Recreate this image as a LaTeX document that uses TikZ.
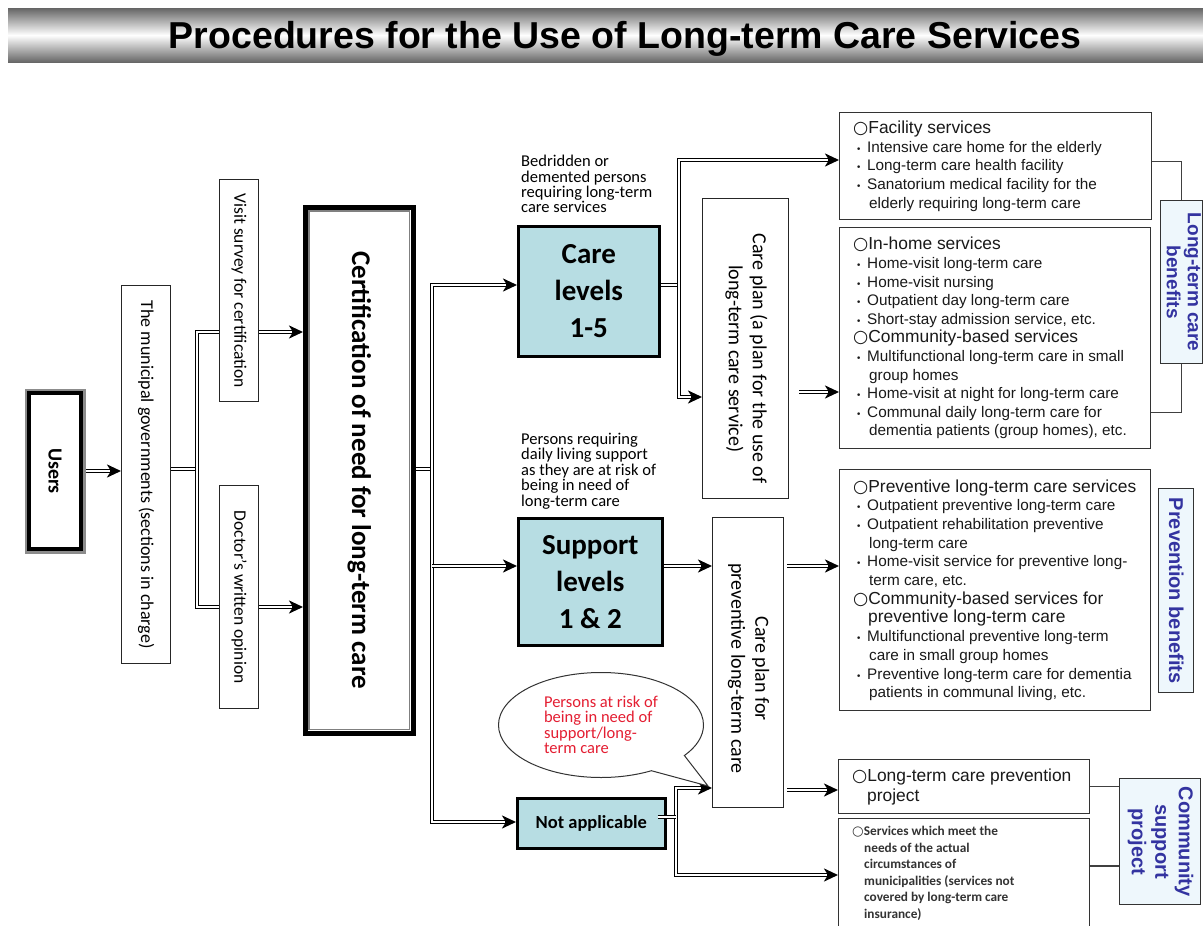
\documentclass[tikz,border=0pt]{standalone}
\usepackage{fontspec}
\setmainfont{Carlito}
\newfontfamily\arialf{Liberation Sans}
\newfontfamily\symf{DejaVu Sans}
\usetikzlibrary{arrows.meta,shapes.callouts,backgrounds}
\definecolor{lvlblue}{RGB}{183,221,227}
\definecolor{lblfill}{RGB}{238,247,252}
\definecolor{lbltext}{RGB}{51,51,160}
\definecolor{bubred}{RGB}{228,30,50}
\tikzset{
  box/.style={draw=black!85, line width=1.2pt, fill=white, anchor=north west, inner sep=0pt},
  lvl/.style={draw=black, line width=2.6pt, fill=lvlblue, anchor=north west, inner sep=0pt, align=center, font=\bfseries\fontsize{29}{37}\selectfont},
  svc/.style={draw=black!80, line width=1.3pt, fill=white, anchor=north west, inner sep=0pt},
  svctxt/.style={anchor=west, inner sep=0pt, align=left, text=black!90, font=\arialf\fontsize{15.3}{18.6}\selectfont},
  lbl/.style={draw=black!80, line width=1.3pt, fill=lblfill, anchor=north west, inner sep=0pt, text=lbltext, font=\arialf\bfseries\fontsize{19}{21}\selectfont},
  brk/.style={draw=black!75, line width=1.3pt},
  tip/.tip={Stealth[length=14pt,width=13pt,inset=4pt]},
  dbl/.style={draw=black, line width=3.4pt, postaction={draw=white, line width=1.6pt}},
  dbla/.style={draw=black, line width=3.4pt, -tip, postaction={draw=white, line width=1.6pt, -, shorten >=11pt}},
  dblb/.style={draw=black, line width=3.4pt, tip-tip, postaction={draw=white, line width=1.6pt, -, shorten >=11pt, shorten <=11pt}},
  note/.style={anchor=north west, inner sep=0pt, align=left, font=\fontsize{16.5}{15.4}\selectfont}
}
\newcommand{\hd}[1]{{\fontsize{17.4}{18.6}\selectfont{\symf ○}#1}}
\newcommand{\itm}[1]{\makebox[14pt][l]{\hspace{3pt}{\symf\fontsize{9}{9}\selectfont •}}#1}
\begin{document}
\begin{tikzpicture}[x=1pt,y=-1pt]
\useasboundingbox (0,0) rectangle (1203,926);
\node[anchor=north west, minimum width=1234pt, minimum height=54pt, inner sep=0pt, text depth=0pt, top color=black!60, bottom color=black!60, middle color=white, font=\arialf\bfseries\fontsize{37.5}{40}\selectfont] (title) at (8,8) {Procedures for the Use of Long-term Care Services};

\node[draw=black, line width=4pt, fill=white, preaction={draw=black!45, line width=9pt}, anchor=north west, minimum width=52pt, minimum height=156pt, inner sep=0pt, font=\bfseries\fontsize{20}{22}\selectfont] (users) at (27,391) {\rotatebox{-90}{Users}};
\node[box, minimum width=49pt, minimum height=378pt, font=\fontsize{18}{20}\selectfont] (muni) at (121,285) {\rotatebox{-90}{The municipal governments (sections in charge)}};
\node[box, minimum width=39pt, minimum height=222pt, font=\fontsize{17.5}{20}\selectfont] (visit) at (219,179) {\rotatebox{-90}{Visit survey for certification}};
\node[box, minimum width=39pt, minimum height=223pt, font=\fontsize{17.5}{20}\selectfont] (doctor) at (219,485) {\rotatebox{-90}{Doctor’s written opinion}};
\node[draw=black, line width=4.5pt, fill=white, anchor=north west, minimum width=108pt, minimum height=526pt, inner sep=0pt, font=\bfseries\fontsize{27}{30}\selectfont] (cert) at (303,205) {\rotatebox{-90}{Certification of need for long-term care}};
\draw[black!50, line width=1.5pt] ([shift={(6pt,-6pt)}]cert.north west) rectangle ([shift={(-6pt,6pt)}]cert.south east);

\node[note] (bedtxt) at (521,155) {Bedridden or\\demented persons\\requiring long-term\\care services};
\node[note] (suptxt) at (521,433) {Persons requiring\\daily living support\\as they are at risk of\\being in need of\\long-term care};
\node[lvl, minimum width=141pt, minimum height=130pt] (care) at (517,225) {Care\\levels\\1-5};
\node[lvl, minimum width=144pt, minimum height=127pt] (sup) at (517,517) {Support\\levels\\1 \& 2};
\node[lvl, minimum width=148pt, minimum height=50pt, font=\bfseries\fontsize{18.5}{20}\selectfont] (na) at (516,797) {Not applicable};
\node[box, minimum width=86pt, minimum height=300pt, font=\fontsize{20}{24}\selectfont] (cp1) at (702,198) {\rotatebox{-90}{\hspace*{20pt}\begin{tabular}{@{}c@{}}Care plan (a plan for the use of\\long-term care service)\end{tabular}}};
\node[box, minimum width=71pt, minimum height=290pt, font=\fontsize{20}{24}\selectfont] (cp2) at (712,517) {\rotatebox{-90}{\hspace*{12pt}\begin{tabular}{@{}c@{}}Care plan for\\preventive long-term care\end{tabular}}};

\coordinate (bubtip) at (708,786);
\node[ellipse callout, draw=black!80, line width=1pt, fill=white, minimum width=205pt, minimum height=105pt, callout absolute pointer={(bubtip)}, callout pointer arc=25, inner sep=0pt, align=left, text=bubred, font=\fontsize{16.5}{15.5}\selectfont] (bubble) at (601,725) {Persons at risk of\\being in need of\\support/long-\\term care};

\node[svc, minimum width=312pt, minimum height=107pt] (fac) at (839,112) {};
\node[svctxt] (factxt) at ([xshift=14pt]fac.west) {\hd{Facility services}\\\itm{Intensive care home for the elderly}\\\itm{Long-term care health facility}\\\itm{Sanatorium medical facility for the}\\\hspace*{16pt}elderly requiring long-term care};
\node[svc, minimum width=311pt, minimum height=221pt] (inh) at (839,227) {};
\node[svctxt] (inhtxt) at ([xshift=14pt]inh.west) {\hd{In-home services}\\\itm{Home-visit long-term care}\\\itm{Home-visit nursing}\\\itm{Outpatient day long-term care}\\\itm{Short-stay admission service, etc.}\\\hd{Community-based services}\\\itm{Multifunctional long-term care in small}\\\hspace*{16pt}group homes\\\itm{Home-visit at night for long-term care}\\\itm{Communal daily long-term care for}\\\hspace*{16pt}dementia patients (group homes), etc.};
\node[svc, minimum width=311pt, minimum height=241pt] (prev) at (839,469) {};
\node[svctxt, font=\arialf\fontsize{15.3}{18.7}\selectfont] (prevtxt) at ([xshift=14pt]prev.west) {\hd{Preventive long-term care services}\\\itm{Outpatient preventive long-term care}\\\itm{Outpatient rehabilitation preventive}\\\hspace*{16pt}long-term care\\\itm{Home-visit service for preventive long-}\\\hspace*{16pt}term care, etc.\\\hd{Community-based services for}\\{\fontsize{17.4}{18.7}\selectfont\hspace*{15pt}preventive long-term care}\\\itm{Multifunctional preventive long-term}\\\hspace*{16pt}care in small group homes\\\itm{Preventive long-term care for dementia}\\\hspace*{16pt}patients in communal living, etc.};
\node[svc, minimum width=251pt, minimum height=54pt] (ltcp) at (838,759) {};
\node[svctxt, font=\arialf\fontsize{17.4}{20}\selectfont] (ltcptxt) at ([xshift=14pt]ltcp.west) {{\symf ○}Long-term care prevention\\\hspace*{15pt}project};
\node[svc, minimum width=251pt, minimum height=110pt] (serv) at (838,818) {};
\node[anchor=north west, inner sep=0pt, align=left, text=black!80, font=\bfseries\fontsize{13.3}{16.5}\selectfont] (servtxt) at ([shift={(14pt,-8pt)}]serv.north west) {{\symf\mdseries ○}Services which meet the\\\hspace*{12pt}needs of the actual\\\hspace*{12pt}circumstances of\\\hspace*{12pt}municipalities (services not\\\hspace*{12pt}covered by long-term care\\\hspace*{12pt}insurance)};

\node[lbl, minimum width=42pt, minimum height=163pt] (ltcb) at (1160,200) {\rotatebox{-90}{\begin{tabular}{@{}c@{}}Long-term care\\benefits\end{tabular}}};
\node[lbl, minimum width=35pt, minimum height=204pt, font=\arialf\bfseries\fontsize{20}{22}\selectfont] (prevb) at (1158,488) {\rotatebox{-90}{Prevention benefits}};
\node[lbl, minimum width=81pt, minimum height=126pt, font=\arialf\bfseries\fontsize{20}{23.5}\selectfont] (csp) at (1119,778) {\rotatebox{-90}{\begin{tabular}{@{}c@{}}Community\\support\\project\end{tabular}}};

\draw[brk] ([yshift=5pt]fac.east) -| (ltcb.north);
\draw[brk] (ltcb.south) |- ([yshift=37pt]inh.south east);
\draw[brk] (ltcp.east) -- (ltcp.east -| csp.west);
\coordinate (sv) at ([yshift=-48pt]serv.north east);
\draw[brk] (sv) -- (sv -| csp.west);

\coordinate (j1) at (197,469);
\coordinate (j1a) at (197,332);
\coordinate (j1b) at (197,607);
\coordinate (j2) at (432,469);
\coordinate (j2a) at (432,285);
\coordinate (j2b) at (432,566);
\coordinate (j2c) at (432,822);
\coordinate (j3) at (679,285);
\coordinate (j3a) at (679,160);
\coordinate (j3b) at (679,397);
\coordinate (j4) at (676,817);
\coordinate (j4a) at (676,788);
\coordinate (j4b) at (676,875);
\coordinate (a1) at (799,392);
\coordinate (a2) at (787,566);
\coordinate (a3) at (787,790);
\begin{scope}[on background layer]
\draw[dbla] (users.east) -- (users.east -| muni.west);
\draw[dbl] (muni.east |- j1) -- (j1);
\draw[dblb] (j1a -| cert.west) -- (j1a) -- (j1b) -- (j1b -| cert.west);
\draw[dbl] (cert.east |- j2) -- (j2);
\draw[dblb] (j2a -| care.west) -- (j2a) -- (j2c) -- (j2c -| na.west);
\draw[dbla] (j2b) -- (j2b -| sup.west);
\draw[dbl] (care.east |- j3) -- (j3);
\draw[dblb] (j3a -| fac.west) -- (j3a) -- (j3b) -- (j3b -| cp1.west);
\draw[dbla] (a1) -- (a1 -| inh.west);
\draw[dbla] (sup.east |- j2b) -- (j2b -| cp2.west);
\draw[dbla] (a2) -- (a2 -| prev.west);
\draw[dbla] (a3) -- (a3 -| ltcp.west);
\draw[dblb] (j4a -| cp2.west) -- (j4a) -- (j4b) -- (j4b -| serv.west);
\end{scope}
\draw[dbl] ([xshift=-9pt]na.east |- j4) -- (j4);
\end{tikzpicture}
\end{document}
